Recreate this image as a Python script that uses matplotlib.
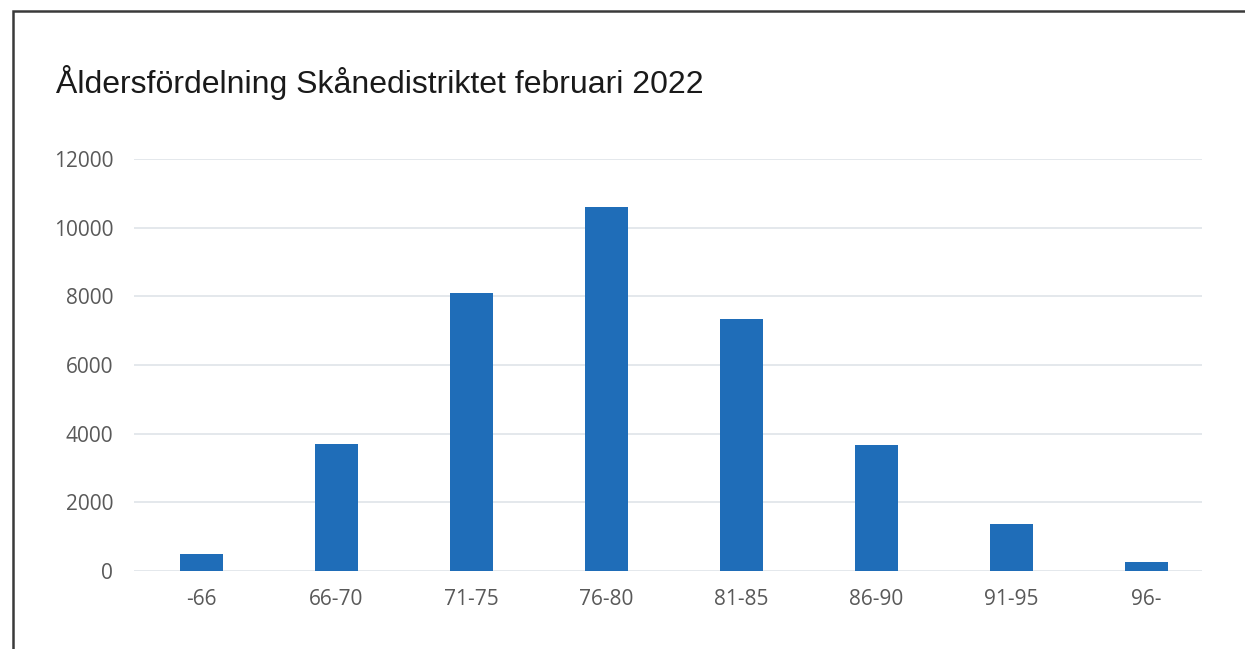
import matplotlib
matplotlib.use("Agg")
import matplotlib.pyplot as plt
from matplotlib.patches import Rectangle

# age groups and member counts
age_groups = ["-66", "66-70", "71-75", "76-80", "81-85", "86-90", "91-95", "96-"]
members = [490, 3700, 8100, 10600, 7330, 3670, 1360, 250]
y_ticks = [0, 2000, 4000, 6000, 8000, 10000, 12000]

W, H = 1245, 649
fig = plt.figure(figsize=(W / 100, H / 100), dpi=100)

# frame around the chart (right and bottom edges run off the picture)
fig.patches.append(Rectangle((13 / W, -0.1), 1.2, 1 - 11 / H + 0.1,
                             transform=fig.transFigure, fill=False,
                             edgecolor="#3a3a3a", linewidth=1.8))

ax = fig.add_axes([134 / W, 1 - 571 / H, (1202 - 134) / W, (571 - 159) / H])
x = range(len(age_groups))
ax.bar(x, members, width=0.32, color="#1f6db8", zorder=3)

# gridlines stop a little short of the last category slot
ax.set_xlim(-0.5, 7.41)
ax.set_ylim(0, 12000)
ax.set_yticks(y_ticks)
ax.set_yticklabels([str(v) for v in y_ticks])
ax.set_xticks(list(x))
ax.set_xticklabels(age_groups)

ax.grid(axis="y", color="#e2e6ea", linewidth=1.3, zorder=0)
for s in ax.spines.values():
    s.set_visible(False)
ax.tick_params(length=0, colors="#595959", labelsize=15)
ax.tick_params(axis="y", pad=15)
ax.tick_params(axis="x", pad=13)
for lab in ax.get_xticklabels() + ax.get_yticklabels():
    lab.set_fontfamily("Open Sans")

fig.text(56 / W, 1 - 93 / H, "Åldersfördelning Skånedistriktet februari 2022",
         fontsize=23, family="Liberation Sans", color="#1a1a1a", va="baseline")

fig.savefig("out.png", dpi=100, facecolor="white")
